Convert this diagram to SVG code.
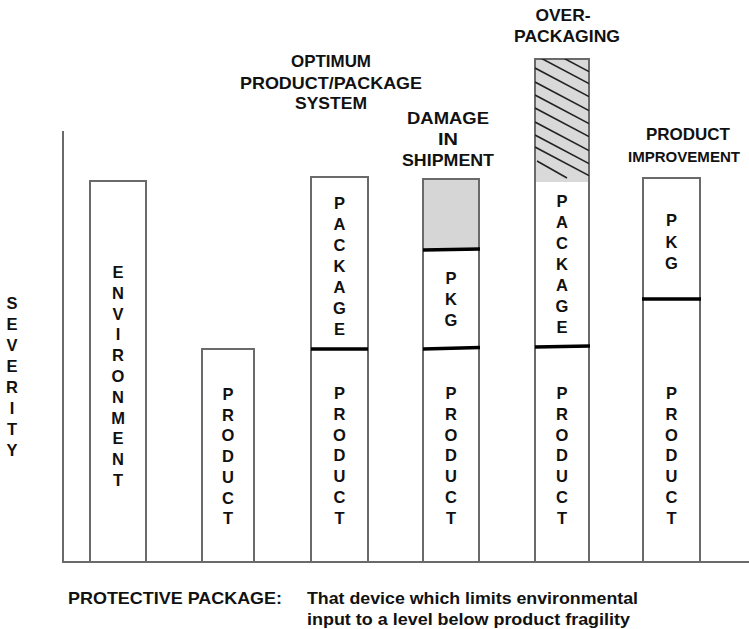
<svg xmlns="http://www.w3.org/2000/svg" width="749" height="629" viewBox="0 0 749 629">
  <style>
    text { font-family: "Liberation Sans", Arial, Helvetica, sans-serif; font-weight: bold; fill: #111; }
    .col { font-size: 16.5px; text-anchor: middle; }
    .title { font-size: 16.5px; text-anchor: middle; }
    .foot { font-size: 16.5px; }
    .bar { fill: #fff; stroke: #6a6a6a; stroke-width: 2; }
    .div { stroke: #000; stroke-width: 3.5; }
    .axis { stroke: #6a6a6a; stroke-width: 2; fill: none; }
    .hatch { stroke: #222; stroke-width: 1.6; }
  </style>
  <defs>
    <clipPath id="overClip">
      <rect x="535" y="59" width="54" height="123"/>
    </clipPath>
  </defs>

  <rect width="749" height="629" fill="#fff"/>

  <!-- axes -->
  <g id="connectors">
    <line class="axis" x1="63" y1="131" x2="63" y2="562"/>
    <line class="axis" x1="62" y1="562" x2="749" y2="562"/>
  </g>

  <!-- vertical axis label -->
  <g id="severity" class="col">
    <text x="12" y="309">S</text>
    <text x="12" y="330">E</text>
    <text x="12" y="351">V</text>
    <text x="12" y="372">E</text>
    <text x="12" y="393">R</text>
    <text x="12" y="414">I</text>
    <text x="12" y="435">T</text>
    <text x="12" y="456">Y</text>
  </g>

  <!-- environment -->
  <g id="environment">
    <rect class="bar" x="90" y="181" width="56" height="381"/>
    <g class="col">
      <text x="118" y="278">E</text>
      <text x="118" y="298.8">N</text>
      <text x="118" y="319.6">V</text>
      <text x="118" y="340.4">I</text>
      <text x="118" y="361.2">R</text>
      <text x="118" y="382">O</text>
      <text x="118" y="402.8">N</text>
      <text x="118" y="423.6">M</text>
      <text x="118" y="444.4">E</text>
      <text x="118" y="465.2">N</text>
      <text x="118" y="486">T</text>
    </g>
  </g>

  <!-- product alone -->
  <g id="product">
    <rect class="bar" x="202" y="349" width="52" height="213"/>
    <g class="col">
      <text x="228" y="400">P</text>
      <text x="228" y="420.7">R</text>
      <text x="228" y="441.4">O</text>
      <text x="228" y="462.1">D</text>
      <text x="228" y="482.8">U</text>
      <text x="228" y="503.5">C</text>
      <text x="228" y="524.2">T</text>
    </g>
  </g>

  <!-- optimum product/package system -->
  <g id="optimum">
    <rect class="bar" x="311" y="177" width="57" height="385"/>
    <line class="div" x1="311" y1="349" x2="368" y2="349"/>
    <g class="col">
      <text x="339.5" y="209">P</text>
      <text x="339.5" y="230">A</text>
      <text x="339.5" y="251">C</text>
      <text x="339.5" y="272">K</text>
      <text x="339.5" y="293">A</text>
      <text x="339.5" y="314">G</text>
      <text x="339.5" y="335">E</text>
      <text x="339.5" y="399">P</text>
      <text x="339.5" y="419.8">R</text>
      <text x="339.5" y="440.6">O</text>
      <text x="339.5" y="461.4">D</text>
      <text x="339.5" y="482.2">U</text>
      <text x="339.5" y="503">C</text>
      <text x="339.5" y="523.8">T</text>
    </g>
    <g class="title">
      <text x="331" y="67" textLength="80" lengthAdjust="spacingAndGlyphs">OPTIMUM</text>
      <text x="331" y="88.5" textLength="182" lengthAdjust="spacingAndGlyphs">PRODUCT/PACKAGE</text>
      <text x="331" y="109" textLength="72" lengthAdjust="spacingAndGlyphs">SYSTEM</text>
    </g>
  </g>

  <!-- damage in shipment -->
  <g id="damage">
    <rect class="bar" x="423" y="179" width="56" height="383"/>
    <rect x="424" y="180" width="54" height="69" fill="#d6d6d6"/>
    <line class="div" x1="423" y1="250" x2="480" y2="249"/>
    <line class="div" x1="423" y1="349" x2="480" y2="347.5"/>
    <g class="col">
      <text x="451" y="284">P</text>
      <text x="451" y="305">K</text>
      <text x="451" y="326">G</text>
      <text x="451" y="399">P</text>
      <text x="451" y="419.8">R</text>
      <text x="451" y="440.6">O</text>
      <text x="451" y="461.4">D</text>
      <text x="451" y="482.2">U</text>
      <text x="451" y="503">C</text>
      <text x="451" y="523.8">T</text>
    </g>
    <g class="title">
      <text x="448" y="124" textLength="82" lengthAdjust="spacingAndGlyphs">DAMAGE</text>
      <text x="448" y="145" textLength="20" lengthAdjust="spacingAndGlyphs">IN</text>
      <text x="448" y="165.5" textLength="92" lengthAdjust="spacingAndGlyphs">SHIPMENT</text>
    </g>
  </g>

  <!-- over-packaging -->
  <g id="overpackaging">
    <rect class="bar" x="535" y="59" width="54" height="503"/>
    <rect x="536" y="60" width="52" height="122" fill="#d9d9d9"/>
    <g clip-path="url(#overClip)">
      <line class="hatch" x1="535" y1="43" x2="589" y2="71.6"/>
      <line class="hatch" x1="535" y1="55" x2="589" y2="83.6"/>
      <line class="hatch" x1="535" y1="68" x2="589" y2="96.6"/>
      <line class="hatch" x1="535" y1="82" x2="589" y2="110.6"/>
      <line class="hatch" x1="535" y1="95" x2="589" y2="123.6"/>
      <line class="hatch" x1="535" y1="108" x2="589" y2="136.6"/>
      <line class="hatch" x1="535" y1="122" x2="589" y2="150.6"/>
      <line class="hatch" x1="535" y1="135" x2="589" y2="163.6"/>
      <line class="hatch" x1="535" y1="147" x2="589" y2="175.6"/>
      <line class="hatch" x1="537" y1="161" x2="567" y2="178"/>
    </g>
    <line class="div" x1="535" y1="347" x2="590" y2="346"/>
    <g class="col">
      <text x="562" y="207">P</text>
      <text x="562" y="228">A</text>
      <text x="562" y="249">C</text>
      <text x="562" y="270">K</text>
      <text x="562" y="291">A</text>
      <text x="562" y="312">G</text>
      <text x="562" y="333">E</text>
      <text x="562" y="399">P</text>
      <text x="562" y="419.8">R</text>
      <text x="562" y="440.6">O</text>
      <text x="562" y="461.4">D</text>
      <text x="562" y="482.2">U</text>
      <text x="562" y="503">C</text>
      <text x="562" y="523.8">T</text>
    </g>
    <g class="title">
      <text x="563" y="20.5" textLength="55" lengthAdjust="spacingAndGlyphs">OVER-</text>
      <text x="567" y="41.5" textLength="106" lengthAdjust="spacingAndGlyphs">PACKAGING</text>
    </g>
  </g>

  <!-- product improvement -->
  <g id="improvement">
    <rect class="bar" x="643" y="178" width="57" height="384"/>
    <line class="div" x1="642" y1="299" x2="701" y2="299"/>
    <g class="col">
      <text x="671.5" y="226">P</text>
      <text x="671.5" y="248">K</text>
      <text x="671.5" y="269">G</text>
      <text x="671.5" y="399">P</text>
      <text x="671.5" y="419.8">R</text>
      <text x="671.5" y="440.6">O</text>
      <text x="671.5" y="461.4">D</text>
      <text x="671.5" y="482.2">U</text>
      <text x="671.5" y="503">C</text>
      <text x="671.5" y="523.8">T</text>
    </g>
    <g class="title">
      <text x="688" y="140" textLength="84" lengthAdjust="spacingAndGlyphs">PRODUCT</text>
      <text x="684" y="162" font-size="15.5" textLength="112" lengthAdjust="spacingAndGlyphs">IMPROVEMENT</text>
    </g>
  </g>

  <!-- definition -->
  <g id="definition" class="foot">
    <text x="68" y="604" textLength="214" lengthAdjust="spacingAndGlyphs">PROTECTIVE PACKAGE:</text>
    <text x="307" y="604" textLength="331" lengthAdjust="spacingAndGlyphs">That device which limits environmental</text>
    <text x="307" y="625" textLength="323" lengthAdjust="spacingAndGlyphs">input to a level below product fragility</text>
  </g>
</svg>
